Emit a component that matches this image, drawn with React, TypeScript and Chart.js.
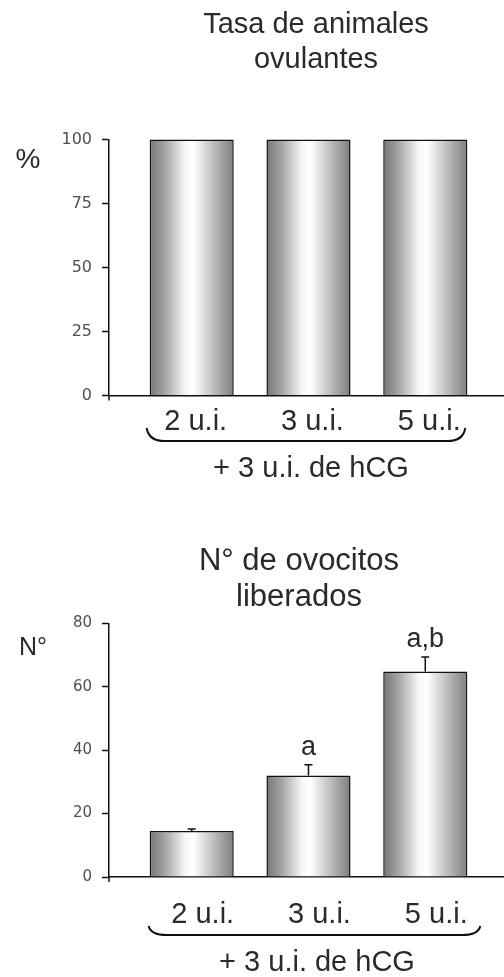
import React, { useEffect, useRef } from "react";
import { Chart, registerables } from "chart.js";

Chart.register(...registerables);

// ---------- data ----------
const categories = ["2 u.i.", "3 u.i.", "5 u.i."];
const categoryPositions = [1, 2, 3];
const ovulationRate = [100, 100, 100];
const rateTicks = [0, 25, 50, 75, 100];
const oocyteMeans = [14.5, 32.0, 64.8];
const oocyteErrors = [0.6, 3.4, 4.6];
const oocyteLetters = ["", "a", "a,b"];
const oocyteTicks = [0, 20, 40, 60, 80];
const topTitle = ["Tasa de animales", "ovulantes"];
const bottomTitle = ["N° de ovocitos", "liberados"];
const topYLabel = "%";
const bottomYLabel = "N°";
const bracketLabel = "+ 3 u.i. de hCG";

// ---------- style ----------
const SANS = '"Liberation Sans", Arial, Helvetica, sans-serif';
const TICK_FONT = '"DejaVu Sans", Verdana, sans-serif';
const INK = "#2a2a2a";
const BAR_FRAC = 0.72;

type PanelCfg = {
  height: number;
  values: number[];
  errors: number[] | null;
  letters: string[] | null;
  yTicks: number[];
  title: string[];
  titleX: number;
  titleBaselines: number[];
  titleSize: number;
  yLabel: string;
  yLabelPos: [number, number];
  yLabelSize: number;
  tickSize: number;
  padTop: number;
  padBottom: number;
  xLabelPad: number;
  xLabelOffset: number;
  braceLeft: number;
  braceRight: number;
  braceY: number;
  braceTipY: number;
  subX: number;
  subY: number;
};

const topCfg: PanelCfg = {
  height: 490,
  values: ovulationRate,
  errors: null,
  letters: null,
  yTicks: rateTicks,
  title: topTitle,
  titleX: 316,
  titleBaselines: [33, 68],
  titleSize: 29,
  yLabel: topYLabel,
  yLabelPos: [28, 160],
  yLabelSize: 28,
  tickSize: 16,
  padTop: 139.5,
  padBottom: 490 - 395.5 - 80,
  xLabelPad: 9,
  xLabelOffset: 4,
  braceLeft: -45,
  braceRight: 40,
  braceY: 441,
  braceTipY: 428,
  subX: 311,
  subY: 477,
};

const bottomCfg: PanelCfg = {
  height: 487,
  values: oocyteMeans,
  errors: oocyteErrors,
  letters: oocyteLetters,
  yTicks: oocyteTicks,
  title: bottomTitle,
  titleX: 299,
  titleBaselines: [80, 116],
  titleSize: 31,
  yLabel: bottomYLabel,
  yLabelPos: [33, 158],
  yLabelSize: 25,
  tickSize: 15,
  padTop: 133.3,
  padBottom: 487 - 387 - 80,
  xLabelPad: 21,
  xLabelOffset: 11,
  braceLeft: -43,
  braceRight: 55,
  braceY: 445,
  braceTipY: 436,
  subX: 317,
  subY: 481,
};

function makeChart(canvas: HTMLCanvasElement, cfg: PanelCfg) {
  const decor = {
    id: "decor",
    afterDatasetsDraw(chart: any) {
      const { ctx } = chart;
      const xs = chart.scales.x;
      const ys = chart.scales.y;
      ctx.save();
      if (cfg.errors) {
        ctx.strokeStyle = "#111";
        ctx.lineWidth = 1.5;
        cfg.values.forEach((v, i) => {
          const x = xs.getPixelForValue(categoryPositions[i]);
          const y0 = ys.getPixelForValue(v);
          const y1 = ys.getPixelForValue(v + cfg.errors![i]);
          ctx.beginPath();
          ctx.moveTo(x, y0);
          ctx.lineTo(x, y1);
          ctx.moveTo(x - 4, y1);
          ctx.lineTo(x + 4, y1);
          ctx.stroke();
        });
      }
      if (cfg.letters) {
        ctx.fillStyle = INK;
        ctx.font = `27px ${SANS}`;
        ctx.textAlign = "center";
        ctx.textBaseline = "alphabetic";
        cfg.letters.forEach((t, i) => {
          if (!t) return;
          const x = xs.getPixelForValue(categoryPositions[i]);
          const top = cfg.values[i] + (cfg.errors ? cfg.errors[i] : 0);
          ctx.fillText(t, x, ys.getPixelForValue(top) - 10);
        });
      }
      ctx.restore();
    },
    afterDraw(chart: any) {
      const { ctx, chartArea } = chart;
      const xs = chart.scales.x;
      ctx.save();
      ctx.fillStyle = INK;
      ctx.font = `${cfg.titleSize}px ${SANS}`;
      ctx.textAlign = "center";
      ctx.textBaseline = "alphabetic";
      cfg.title.forEach((line, i) => ctx.fillText(line, cfg.titleX, cfg.titleBaselines[i]));
      ctx.font = `${cfg.yLabelSize}px ${SANS}`;
      ctx.textBaseline = "middle";
      ctx.fillText(cfg.yLabel, cfg.yLabelPos[0], cfg.yLabelPos[1]);
      ctx.strokeStyle = "#111";
      ctx.lineWidth = 1.5;
      ctx.beginPath();
      ctx.moveTo(chartArea.left, chartArea.bottom);
      ctx.lineTo(chartArea.left, chartArea.bottom + 5);
      ctx.stroke();
      const bl = xs.getPixelForValue(categoryPositions[0]) + cfg.braceLeft;
      const br = xs.getPixelForValue(categoryPositions[categoryPositions.length - 1]) + cfg.braceRight;
      ctx.lineWidth = 2;
      ctx.beginPath();
      ctx.moveTo(bl, cfg.braceTipY);
      ctx.quadraticCurveTo(bl + 2, cfg.braceY, bl + 18, cfg.braceY);
      ctx.lineTo(br - 18, cfg.braceY);
      ctx.quadraticCurveTo(br - 2, cfg.braceY, br, cfg.braceTipY);
      ctx.stroke();
      ctx.font = `29px ${SANS}`;
      ctx.textBaseline = "alphabetic";
      ctx.fillText(bracketLabel, cfg.subX, cfg.subY);
      ctx.restore();
    },
  };

  const gradientFor = (c: any) => {
    const chart = c.chart;
    const xs = chart.scales && chart.scales.x;
    if (!xs || c.dataIndex === undefined) return "#bbb";
    const cx = xs.getPixelForValue(categoryPositions[c.dataIndex]);
    const half = ((xs.getPixelForValue(2) - xs.getPixelForValue(1)) * BAR_FRAC) / 2;
    if (!isFinite(cx) || !isFinite(half) || half <= 0) return "#bbb";
    const g = chart.ctx.createLinearGradient(cx - half, 0, cx + half, 0);
    g.addColorStop(0, "#767676");
    g.addColorStop(0.18, "#a4a4a4");
    g.addColorStop(0.42, "#f6f6f6");
    g.addColorStop(0.52, "#ffffff");
    g.addColorStop(0.78, "#b8b8b8");
    g.addColorStop(1, "#7e7e7e");
    return g;
  };

  const chart = new Chart(canvas, {
    type: "bar",
    data: {
      datasets: [
        {
          data: cfg.values.map((v, i) => ({ x: categoryPositions[i], y: v })),
          backgroundColor: gradientFor,
          borderColor: "#111",
          borderWidth: 1.5,
          barPercentage: BAR_FRAC,
          categoryPercentage: 1,
          clip: 6,
        } as any,
      ],
    },
    options: {
      responsive: false,
      animation: false,
      events: [],
      layout: { padding: { top: cfg.padTop, bottom: cfg.padBottom, left: 0, right: 0 } },
      plugins: { legend: { display: false }, title: { display: false }, tooltip: { enabled: false } },
      scales: {
        x: {
          type: "linear",
          offset: false,
          min: 0.292,
          max: 3.674,
          grid: { display: false, drawTicks: false, offset: false },
          border: { display: true, color: "#111", width: 1.5 },
          afterBuildTicks: (s: any) => {
            s.ticks = categoryPositions.map((v) => ({ value: v }));
          },
          afterFit: (s: any) => {
            s.height = 80;
            s.paddingLeft = 0;
            s.paddingRight = 0;
          },
          ticks: {
            autoSkip: false,
            maxRotation: 0,
            padding: cfg.xLabelPad,
            labelOffset: cfg.xLabelOffset,
            color: INK,
            font: { family: SANS, size: 29 },
            callback: (v: any) => categories[categoryPositions.indexOf(Number(v))] ?? "",
          },
        },
        y: {
          type: "linear",
          min: cfg.yTicks[0],
          max: cfg.yTicks[cfg.yTicks.length - 1],
          grid: { drawOnChartArea: false, drawTicks: true, tickLength: 7, tickColor: "#111", tickWidth: 1.5 },
          border: { display: true, color: "#111", width: 1.5 },
          afterBuildTicks: (s: any) => {
            s.ticks = cfg.yTicks.map((v) => ({ value: v }));
          },
          afterFit: (s: any) => {
            s.width = 109;
            s.paddingTop = 0;
            s.paddingBottom = 0;
          },
          ticks: {
            padding: 10,
            color: "#505050",
            font: { family: TICK_FONT, size: cfg.tickSize },
          },
        },
      },
    } as any,
    plugins: [decor],
  });
  chart.update();
  return chart;
}

function Panel({ cfg, top }: { cfg: PanelCfg; top: number }) {
  const ref = useRef<HTMLCanvasElement>(null);
  useEffect(() => {
    if (!ref.current) return;
    const chart = makeChart(ref.current, cfg);
    return () => chart.destroy();
  }, [cfg]);
  return (
    <canvas
      ref={ref}
      width={504}
      height={cfg.height}
      style={{ position: "absolute", left: 0, top, width: 504, height: cfg.height, display: "block" }}
    />
  );
}

export default function App() {
  return (
    <div style={{ position: "absolute", left: 0, top: 0, width: 504, height: 977, background: "#fff", overflow: "hidden" }}>
      <Panel cfg={topCfg} top={0} />
      <Panel cfg={bottomCfg} top={490} />
    </div>
  );
}
